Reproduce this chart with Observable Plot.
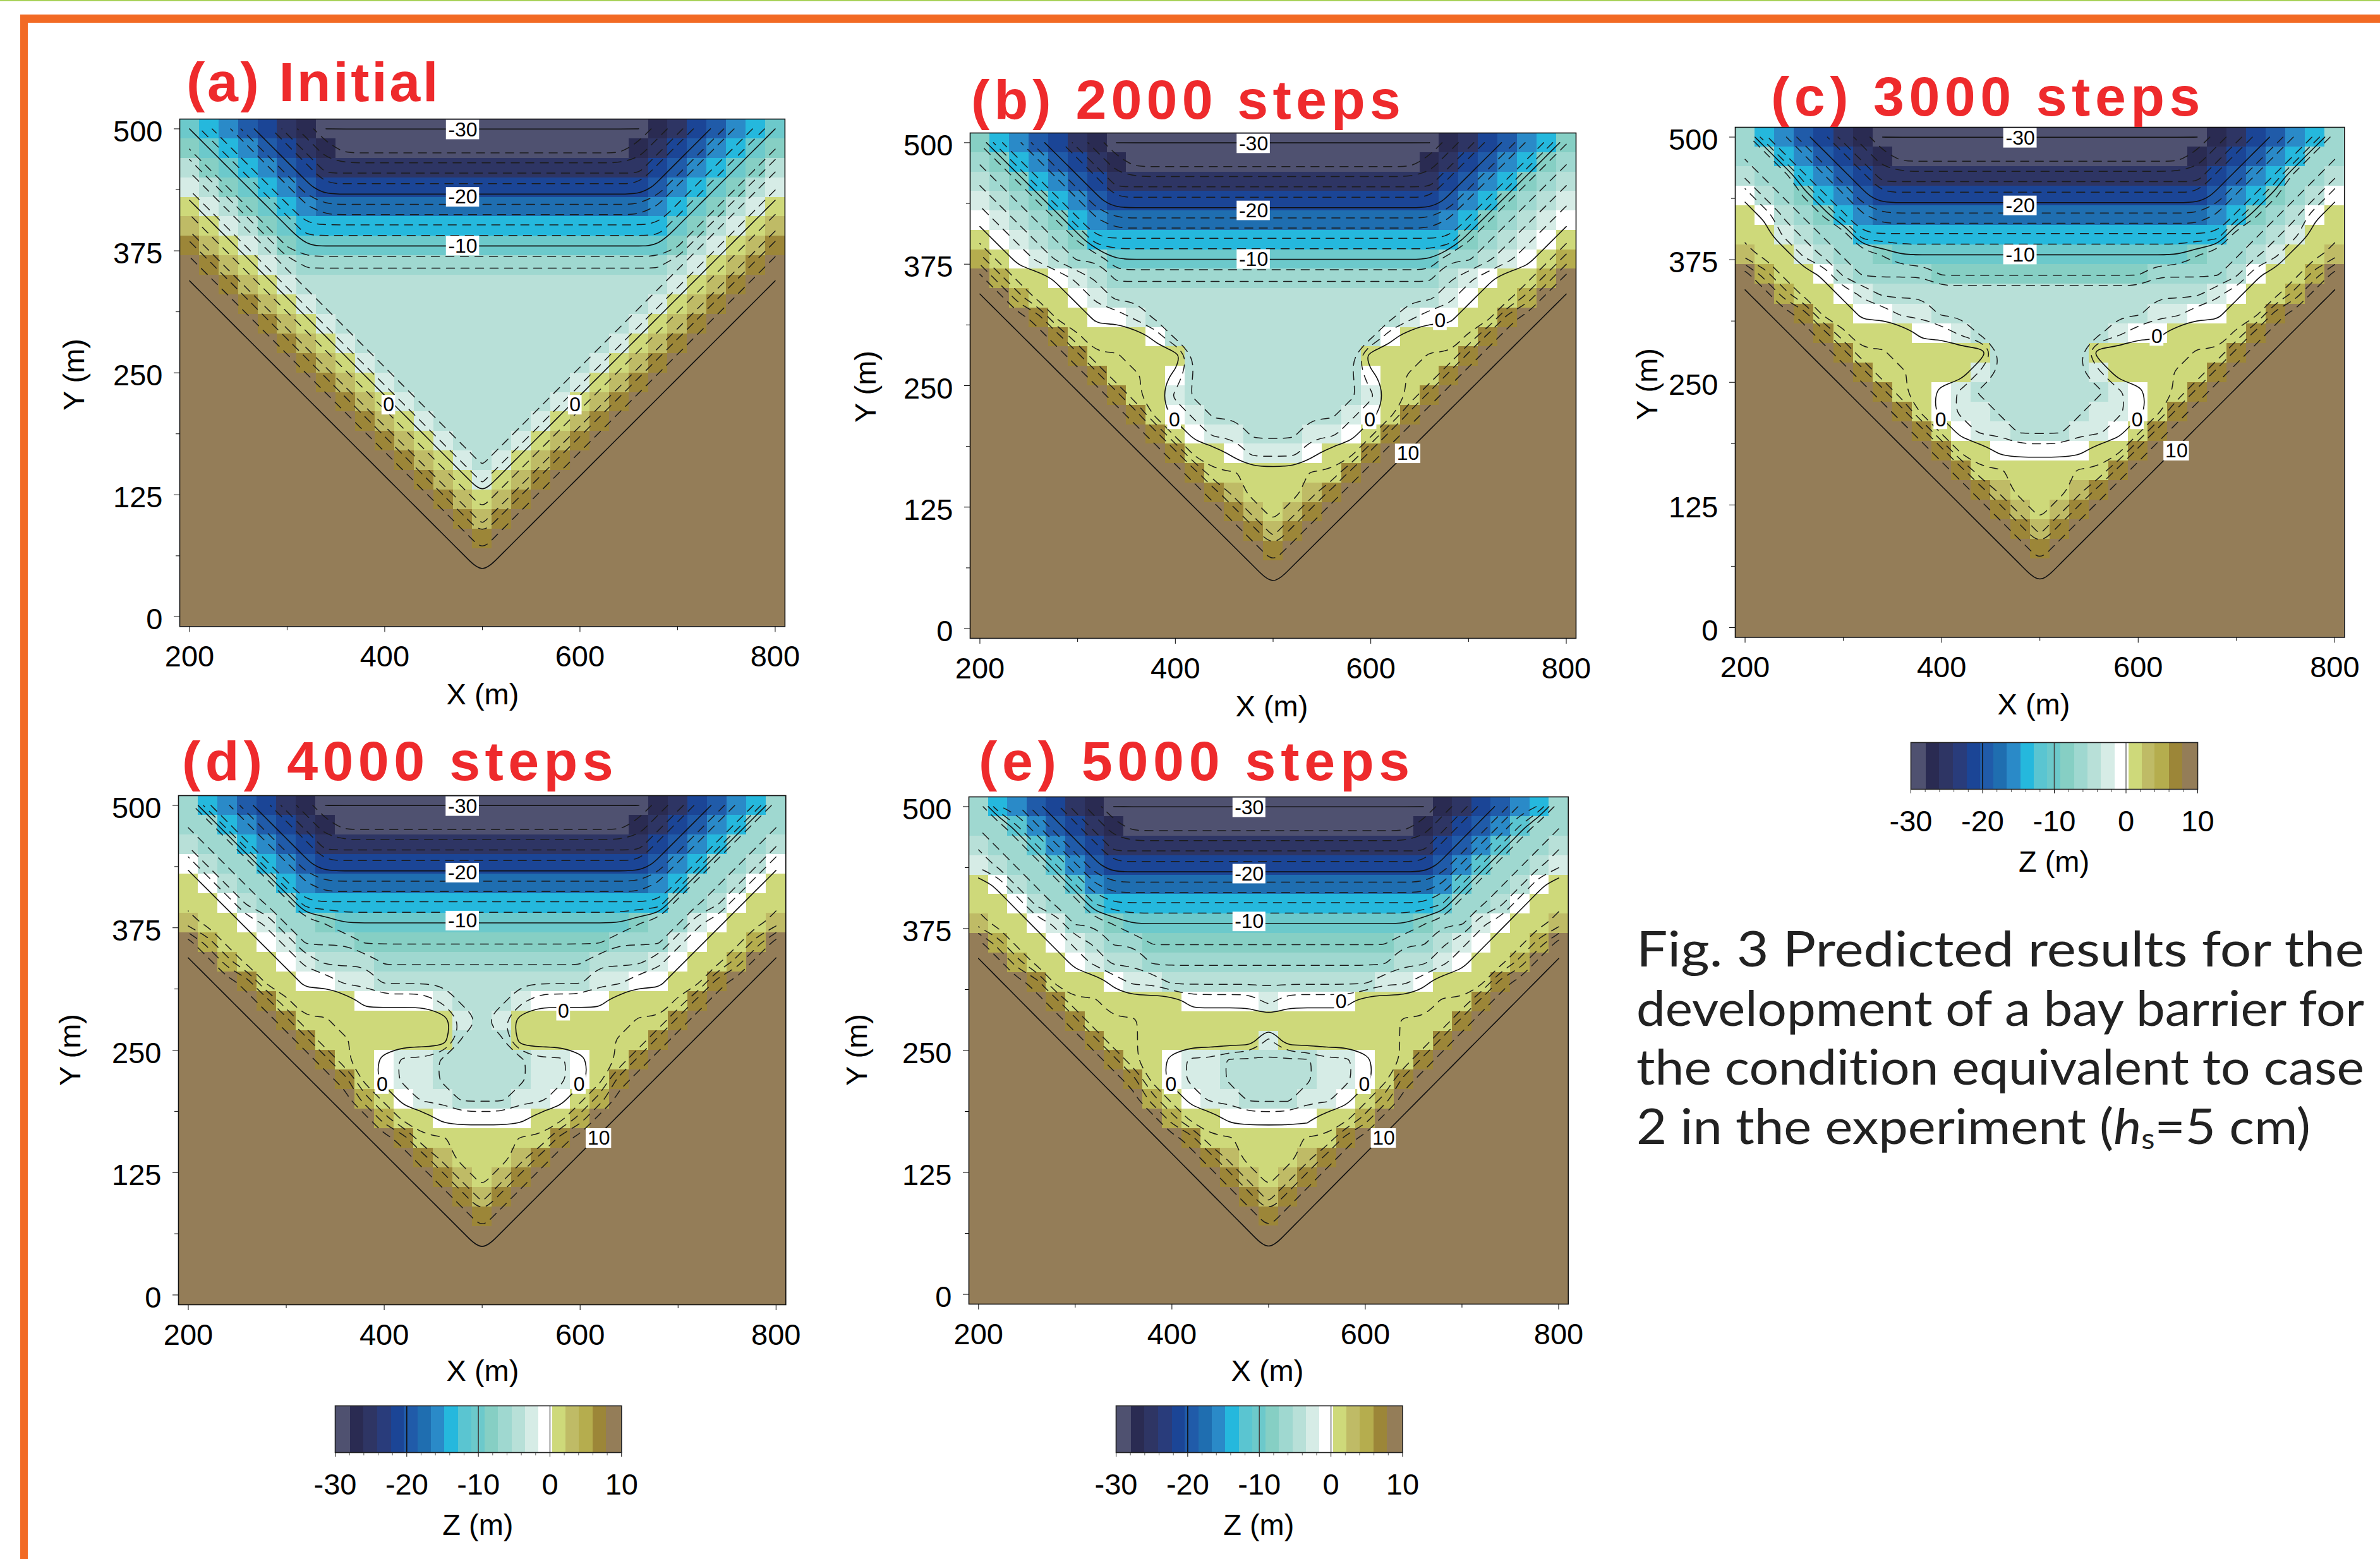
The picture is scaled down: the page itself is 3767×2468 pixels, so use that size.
<!DOCTYPE html>
<html>
<head>
<meta charset="utf-8">
<script src="https://cdn.jsdelivr.net/npm/d3@7"></script>
<script src="https://cdn.jsdelivr.net/npm/@observablehq/plot@0.6"></script>
<style>
html,body{margin:0;padding:0;background:#fff}
#page{position:relative;width:3767px;height:2468px;overflow:hidden;background:#fff;font-family:"Liberation Sans",Arial,sans-serif;color:#000}
#page svg{position:absolute;overflow:visible;background:transparent}
.t{position:absolute;white-space:nowrap}
.title{font-weight:bold;font-size:88px;color:#ee2a2c;line-height:1}
.ax{font-size:47px;line-height:1;transform:translate(-50%,-50%)}
.ay{font-size:47px;line-height:1;transform:translate(-50%,-50%) rotate(-90deg)}
.cap{font-family:Lato,"Noto Sans",sans-serif;font-size:78px;line-height:1;color:#222;transform-origin:0 50%;font-variant-ligatures:none}
.cap sub{font-size:46px;vertical-align:-8px;line-height:0}
</style>
</head>
<body>
<div id="page"></div>
<script>
// colour bands of the Z legend
const bandEdges = [-30,-27.87,-26.02,-24.06,-22.17,-20.35,-18.42,-16.57,-14.71,-12.79,-10.93,-9.08,-7.22,-5.3,-3.44,-1.58,0.37,2.23,4.05,6.01,7.87,10];
const bandColors = ["#4f5170","#2a2b52","#2e3564","#293c7b","#1b4596","#205ba9","#1f6eb0","#2a8ac8","#25b8dd","#5ac5d1","#6cc9cb","#86cfc4","#9fd8d0","#b8e0d8","#d6ece6","#ffffff","#ced97a","#bfbb66","#b5ad4e","#9c8638","#947d58"];
// estimated elevation (m) per cell code
const elevationCodes = {A:-30.01,a:-28.9,b:-26.9,c:-25,d:-23.1,e:-21.3,f:-19.4,g:-17.5,h:-15.6,i:-13.7,j:-11.9,k:-10,l:-8.15,m:-6.25,n:-4.4,o:-2.5,p:-0.6,q:1.3,Q:2.2,r:3.1,s:5,t:6.9,u:8.9,v:10.3};
// rows from Y=500 down to Y=0, cells from X=200 to X=500 (the bay is symmetric about X=500)
const gridA = ["kihfecbAAAAAAAAA","lkihfecbaaaaaaaa","nlkihfeccccccccc","onlkihfeeeeeeeee","qonlkihggggggggg","rqonlkiiiiiiiiii","trqonlkkkkkkkkkk","utrqonmmmmmmmmmm","vutrqonnnnnnnnnn","vvutrqonnnnnnnnn","vvvutrqonnnnnnnn","vvvvutrqonnnnnnn","vvvvvutrqonnnnnn","vvvvvvutrqonnnnn","vvvvvvvutrqonnnn","vvvvvvvvutrqonnn","vvvvvvvvvutrqonn","vvvvvvvvvvutrqon","vvvvvvvvvvvutrqo","vvvvvvvvvvvvutrq","vvvvvvvvvvvvvutr","vvvvvvvvvvvvvvut","vvvvvvvvvvvvvvvu","vvvvvvvvvvvvvvvv","vvvvvvvvvvvvvvvv","vvvvvvvvvvvvvvvv"];
const gridB = ["lihfecbAAAAAAAAA","mlihfecbaaaaaaaa","nmlihfeccccccccc","onmlihfeeeeeeeee","ponmlihggggggggg","qponmliiiiiiiiii","sqponmmkkkkkkkkk","usqqponmmmmmmmmm","vusqqponnnnnnnnn","vvutqqpponnnnnnn","vvvutQqqqpnnnnnn","vvvvutQQqqqnnnnn","vvvvvutQQqpnnnnn","vvvvvvutQqonnnnn","vvvvvvvutqponnnn","vvvvvvvvutqpoonn","vvvvvvvvvutqqpoo","vvvvvvvvvvutQQqq","vvvvvvvvvvvutrqq","vvvvvvvvvvvvutrq","vvvvvvvvvvvvvutr","vvvvvvvvvvvvvvut","vvvvvvvvvvvvvvvu","vvvvvvvvvvvvvvvv","vvvvvvvvvvvvvvvv","vvvvvvvvvvvvvvvv"];
const gridC = ["mihfecbAAAAAAAAA","mmihfecbaaaaaaaa","nmmihfeccccccccc","pnmlihfeeeeeeeee","qpnmlihggggggggg","qqonmmiiiiiiiiii","rqqonmmlkkkkkkkk","usqqpnmmmmllllll","vusqqponnnnnnnnn","vvutqqppoonnnnnn","vvvutQqqqpponnnn","vvvvutQQqqqqqnnn","vvvvvutQQqqqonnn","vvvvvvutQqponnnn","vvvvvvvutqpoonnn","vvvvvvvvutqpoonn","vvvvvvvvvutqqppp","vvvvvvvvvvutQQqq","vvvvvvvvvvvutrqq","vvvvvvvvvvvvutrq","vvvvvvvvvvvvvutr","vvvvvvvvvvvvvvut","vvvvvvvvvvvvvvvu","vvvvvvvvvvvvvvvv","vvvvvvvvvvvvvvvv","vvvvvvvvvvvvvvvv"];
const gridD = ["mihfecbAAAAAAAAA","mmihfecbaaaaaaaa","nmmihfeccccccccc","pnmmihfeeeeeeeee","qpnmmihggggggggg","qqpnmmiiiiiiiiii","rqqpommlkkkkkkkk","usqqpommmlllllll","vusqqponnnmmmmmm","vvutqqppoonnnnnn","vvvutQqqqpppponn","vvvvutQQqqqqqqon","vvvvvutQQqqqqqnn","vvvvvvutQqpoonnn","vvvvvvvutqpoonnn","vvvvvvvvusqpoonn","vvvvvvvvvusqqppp","vvvvvvvvvvutQQqq","vvvvvvvvvvvutrqq","vvvvvvvvvvvvutrq","vvvvvvvvvvvvvutr","vvvvvvvvvvvvvvut","vvvvvvvvvvvvvvvu","vvvvvvvvvvvvvvvv","vvvvvvvvvvvvvvvv","vvvvvvvvvvvvvvvv"];
const gridE = ["mihfecbAAAAAAAAA","mmjhfecbaaaaaaaa","nmmjhfeccccccccc","onmmjhfeeeeeeeee","qpnmmjhggggggggg","qqpnmmjiiiiiiiii","rqqpommlkkkkkkkk","usqqponmmlllllll","vusqqponnmmmmmmm","vvutqqqpoonnnnnn","vvvutQQqqqqppppo","vvvvutQQQqqqqqqq","vvvvvutQQqqqqqqo","vvvvvvutQqpoonnn","vvvvvvvutqpoonnn","vvvvvvvvusqpoonn","vvvvvvvvvusqqppp","vvvvvvvvvvutQQqq","vvvvvvvvvvvutrqq","vvvvvvvvvvvvutrq","vvvvvvvvvvvvvutr","vvvvvvvvvvvvvvut","vvvvvvvvvvvvvvvu","vvvvvvvvvvvvvvvv","vvvvvvvvvvvvvvvv","vvvvvvvvvvvvvvvv"];
// contour levels and tick values
const contourLevels = [-30,-28,-26,-24,-22,-20,-18,-16,-14,-12,-10,-8,-6,-4,-2,0,2,4,6,8,10];
const xTicks = [200,400,600,800], xMinorTicks = [300,500,700];
const yTicks = [0,125,250,375,500], yMinorTicks = [62.5,187.5,312.5,437.5];
const zTicks = [-30,-20,-10,0,10], zMinorTicks = [-28,-26,-24,-22,-18,-16,-14,-12,-8,-6,-4,-2,2,4,6,8];
// contour labels: text, X, Y
const labelsA = [["-30",480,499],["-20",480,430],["-10",480,380],["0",404,217],["0",595,217]];
const labelsB = [["-30",480,499],["-20",480,430],["-10",480,380],["0",399,215],["0",599,215],["0",671,317],["10",638,180]];
const labelsC = [["-30",480,499],["-20",480,430],["-10",480,380],["0",399,212],["0",599,212],["0",619,297],["10",639,180]];
const labelsD = [["-30",480,499],["-20",480,431],["-10",480,382],["0",398,215],["0",599,215],["0",583,290],["10",619,160]];
const labelsE = [["-30",480,499],["-20",480,431],["-10",480,382],["0",399,215],["0",599,215],["0",575,300],["10",619,160]];

const page = document.getElementById("page");
const FONT = '"Liberation Sans",Arial,sans-serif';

function deco(l,t,w,h,c){const e=document.createElement("div");e.style.cssText=`position:absolute;left:${l}px;top:${t}px;width:${w}px;height:${h}px;background:${c}`;page.appendChild(e)}
deco(0,0,3767,2,"#a8d25a");
deco(32,23,3735,13,"#f26a24");
deco(32,23,12,2445,"#f26a24");

function cells(rows){
  const out=[];
  rows.forEach((r,i)=>{
    const full=r+[...r.slice(0,15)].reverse().join("");
    [...full].forEach((c,j)=>out.push({x:200+20*j,y:500-20*i,z:elevationCodes[c]}));
  });
  return out;
}
function contourLines(grid,level){
  const contour=d3.contours().size([31,26]).thresholds([level])(grid.map(d=>d.z))[0];
  const pts=[];let id=0;
  const inside=p=>p[0]>0&&p[0]<31&&p[1]>0&&p[1]<26;
  for(const poly of contour.coordinates)for(const ring of poly){
    const open=ring.slice(0,-1),n=open.length;
    let s=open.findIndex(p=>!inside(p));
    const closed=s<0;
    if(closed)s=0;
    let run=[];
    const flush=()=>{if(run.length>1){id++;for(const p of run)pts.push({id,level,x:190+20*p[0],y:510-20*p[1]})}run=[]};
    for(let k=0;k<n;k++){const p=open[(s+k)%n];if(inside(p))run.push(p);else flush()}
    if(closed)run.push(open[0]);
    flush();
  }
  return pts;
}
const boxWidth=t=>t.length===1?14:t.length===2?26:34;

function panel(f){
  const M={l:170,r:60,t:10,b:90};
  const grid=cells(f.rows);
  const solid=[],dashed=[];
  contourLevels.forEach(v=>{
    const ls=contourLines(grid,v).map(p=>({...p,id:v+"_"+p.id}));
    (v%10===0?solid:dashed).push(...ls);
  });
  const svg=Plot.plot({
    width:f.R-f.L+M.l+M.r,height:f.B-f.T+M.t+M.b,
    marginLeft:M.l,marginRight:M.r,marginTop:M.t,marginBottom:M.b,
    style:{fontFamily:FONT,overflow:"visible",background:"transparent"},
    x:{domain:[190,810]},y:{domain:[-10,510]},
    color:{type:"threshold",domain:bandEdges.slice(1,-1),range:bandColors},
    marks:[
      Plot.rect(grid,{x1:d=>d.x-10,x2:d=>d.x+10,y1:d=>d.y-10,y2:d=>d.y+10,fill:"z",shapeRendering:"crispEdges"}),
      Plot.line(dashed,{x:"x",y:"y",z:"id",stroke:"#1c1c1c",strokeWidth:1.5,strokeDasharray:"13,10",curve:"basis"}),
      Plot.line(solid,{x:"x",y:"y",z:"id",stroke:"#111",strokeWidth:1.6,curve:"basis"}),
      Plot.rect(f.labels,{x1:d=>d[1]-boxWidth(d[0])/2,x2:d=>d[1]+boxWidth(d[0])/2,y1:d=>d[2]-10,y2:d=>d[2]+10,fill:"#fff"}),
      Plot.text(f.labels,{x:d=>d[1],y:d=>d[2],text:d=>d[0],fontSize:32,fill:"#000"}),
      Plot.axisX({ticks:xTicks,tickSize:9,tickPadding:21,label:null,tickFormat:d=>String(d),fontSize:47}),
      Plot.axisX({ticks:xMinorTicks,tickSize:6,fill:"none",label:null}),
      Plot.axisY({ticks:yTicks,tickSize:9,fill:"none",label:null}),
      Plot.axisY({ticks:yTicks,tickSize:0,tickPadding:27,label:null,tickFormat:d=>String(d),fontSize:47,dy:5}),
      Plot.axisY({ticks:yMinorTicks,tickSize:6,fill:"none",label:null}),
      Plot.frame({stroke:"#111",strokeWidth:1.6})
    ]
  });
  svg.style.left=(f.L-M.l)+"px";svg.style.top=(f.T-M.t)+"px";
  page.appendChild(svg);
  addText(f.X[0],f.X[1],"X (m)","ax");
  addText(f.Y[0],f.Y[1],"Y (m)","ay");
  const title=addText(f.title[1],f.title[2]-78,f.title[0],"title");
  title.dataset.w=f.title[3];
}
function addText(x,y,t,cls){
  const e=document.createElement("div");e.className="t "+cls;e.style.left=x+"px";e.style.top=y+"px";e.innerHTML=t;page.appendChild(e);return e;
}
function colorbar(L,R,T){
  const B=T+74,M={l:60,r:60,t:5,b:60};
  const bands=bandColors.map((c,i)=>({x1:bandEdges[i],x2:bandEdges[i+1],z:(bandEdges[i]+bandEdges[i+1])/2}));
  const svg=Plot.plot({
    width:R-L+M.l+M.r,height:B-T+M.t+M.b,marginLeft:M.l,marginRight:M.r,marginTop:M.t,marginBottom:M.b,
    style:{fontFamily:FONT,overflow:"visible",background:"transparent"},
    x:{domain:[-30,10]},
    color:{type:"threshold",domain:bandEdges.slice(1,-1),range:bandColors},
    marks:[
      Plot.rect(bands,{x1:"x1",x2:"x2",fill:"z",shapeRendering:"crispEdges"}),
      Plot.ruleX([-20],{stroke:"#111",strokeWidth:1.6}),
      Plot.ruleX([-10],{stroke:"#444",strokeWidth:1.6}),
      Plot.ruleX([0],{stroke:"#777",strokeWidth:1.6}),
      Plot.axisX({ticks:zTicks,tickSize:7,tickPadding:26,fontSize:47,label:null,tickFormat:d=>String(d)}),
      Plot.axisX({ticks:zMinorTicks,tickSize:5,fill:"none",label:null,stroke:"#555"}),
      Plot.frame({stroke:"#222",strokeWidth:1.6})
    ]
  });
  svg.style.left=(L-M.l)+"px";svg.style.top=(T-M.t)+"px";
  page.appendChild(svg);
  addText((L+R)/2,T+188,"Z (m)","ax");
}

panel({rows:gridA,labels:labelsA,L:283.5,R:1241.4,T:188.3,B:991.7,X:[764,1098],Y:[116,593],title:["(a) Initial",295,164,402]});
panel({rows:gridB,labels:labelsB,L:1534.5,R:2493.5,T:210,B:1010,X:[2013,1117],Y:[1369,612],title:["(b) 2000 steps",1537,192,687]});
panel({rows:gridC,labels:labelsC,L:2745.6,R:3710,T:200.5,B:1008,X:[3219,1114],Y:[2606,608],title:["(c) 3000 steps",2803,187,687]});
panel({rows:gridD,labels:labelsD,L:282,R:1243.3,T:1259,B:2065,X:[764,2169],Y:[110,1662],title:["(d) 4000 steps",288,1239,690]});
panel({rows:gridE,labels:labelsE,L:1533,R:2481.8,T:1261,B:2064,X:[2006,2169],Y:[1355,1662],title:["(e) 5000 steps",1549,1239,690]});
colorbar(3024,3478,1175);
colorbar(529.7,983,2225);
colorbar(1765.5,2219,2225);

const captionLines=[["Fig. 3 Predicted results for the",1152],["development of a bay barrier for",1152],["the condition equivalent to case",1152],["2 in the experiment (<i>h</i><sub>s</sub>=5 cm)",1067]];
captionLines.forEach(([t,w],i)=>{const e=addText(2590,1525+i*93.6-64,t,"cap");e.dataset.fit=w;});

// fit title tracking and caption width to the reference widths
document.querySelectorAll(".title").forEach(e=>{
  const w=e.getBoundingClientRect().width,n=e.textContent.length;
  e.style.letterSpacing=((+e.dataset.w-w)/n)+"px";
});
document.querySelectorAll(".cap").forEach(e=>{
  const w=e.getBoundingClientRect().width;
  e.style.transform=`scaleX(${+e.dataset.fit/w})`;
});
</script>
</body>
</html>
